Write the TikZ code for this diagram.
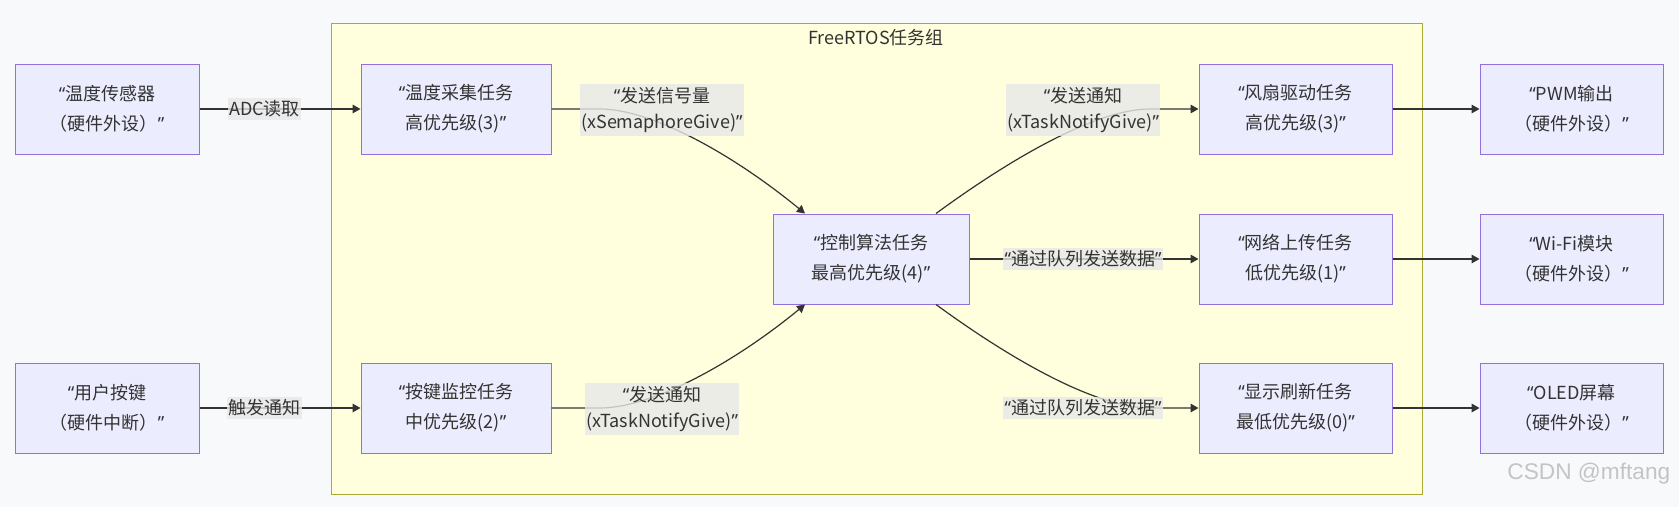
\documentclass[tikz,border=0pt]{standalone}
\usepackage{fontspec}
\setmainfont{Noto Sans CJK SC}
\newfontfamily\qfont{Noto Sans}
\newfontfamily\wmfont{Liberation Sans}
\newcommand\oq{{\qfont “}}
\newcommand\cq{{\qfont ”}}
\usetikzlibrary{arrows.meta,calc}
\definecolor{bgc}{HTML}{F8F9FB}
\definecolor{nodefill}{HTML}{ECECFF}
\definecolor{nodeborder}{HTML}{9370DB}
\definecolor{clusterfill}{HTML}{FFFFDE}
\definecolor{clusterborder}{HTML}{AAAA33}
\definecolor{linec}{HTML}{333333}
\definecolor{labelbg}{HTML}{E8E8E8}
\definecolor{wmark}{HTML}{C4C4C4}
\tikzset{
  box/.style={draw=nodeborder, fill=nodefill, line width=0.75pt, minimum height=67.5pt,
    inner sep=0pt, align=center, text=linec, font=\fontsize{13.5pt}{22.5pt}\selectfont},
  edgeline/.style={draw=linec, line width=0.9pt, -{Triangle[length=6pt,width=6.5pt]}},
  elabel/.style={fill=labelbg, fill opacity=0.8, text opacity=1, inner xsep=1pt, inner ysep=2pt,
    align=center, text=linec, font=\fontsize{13.5pt}{20pt}\selectfont},
}
\begin{document}
\begin{tikzpicture}[x=0.75pt,y=-0.75pt]
\useasboundingbox[fill=bgc] (0,0) rectangle (1679,507);
% cluster
\draw[draw=clusterborder, fill=clusterfill, line width=0.75pt] (331,23.5) rectangle (1422,494);
\node[text=linec, font=\fontsize{13.5pt}{16pt}\selectfont] (title) at (876,38) {FreeRTOS任务组};
% nodes
\node[box, minimum width=138pt] (A) at (107,109) {\oq 温度传感器\\（硬件外设）\cq};
\node[box, minimum width=138pt] (B) at (107,408) {\oq 用户按键\\（硬件中断）\cq};
\node[box, minimum width=142.5pt] (C) at (456,109) {\oq 温度采集任务\\高优先级(3)\cq};
\node[box, minimum width=142.5pt] (D) at (456,408) {\oq 按键监控任务\\中优先级(2)\cq};
\node[box, minimum width=147pt] (E) at (871,259) {\oq 控制算法任务\\最高优先级(4)\cq};
\node[box, minimum width=144.75pt] (F) at (1295.5,109) {\oq 风扇驱动任务\\高优先级(3)\cq};
\node[box, minimum width=144.75pt] (G) at (1295.5,259) {\oq 网络上传任务\\低优先级(1)\cq};
\node[box, minimum width=144.75pt] (H) at (1295.5,408) {\oq 显示刷新任务\\最低优先级(0)\cq};
\node[box, minimum width=137.25pt] (I) at (1571.5,109) {\oq PWM输出\\（硬件外设）\cq};
\node[box, minimum width=137.25pt] (J) at (1571.5,259) {\oq Wi-Fi模块\\（硬件外设）\cq};
\node[box, minimum width=137.25pt] (K) at (1571.5,408) {\oq OLED屏幕\\（硬件外设）\cq};
% waypoints
\coordinate (c1) at (600,109);
\coordinate (c2) at (650,109);
\coordinate (c3) at (730,152);
\coordinate (d1) at (600,408);
\coordinate (d2) at (650,408);
\coordinate (d3) at (730,366);
\coordinate (f1) at (1150,109);
\coordinate (f2) at (1100,109);
\coordinate (f3) at (1020,152);
\coordinate (h1) at (1150,408);
\coordinate (h2) at (1100,408);
\coordinate (h3) at (1020,366);
% edges
\draw[edgeline] (A) -- (C);
\draw[edgeline] (B) -- (D);
\draw[edgeline] (C.east) -- (c1) .. controls (c2) and (c3) .. ($(E.north)+(-66,0)$);
\draw[edgeline] (D.east) -- (d1) .. controls (d2) and (d3) .. ($(E.south)+(-66,0)$);
\draw[edgeline] ($(E.north)+(65,0)$) .. controls (f3) and (f2) .. (f1) -- (F.west);
\draw[edgeline] (E) -- (G);
\draw[edgeline] ($(E.south)+(65,0)$) .. controls (h3) and (h2) .. (h1) -- (H.west);
\draw[edgeline] (F) -- (I);
\draw[edgeline] (G) -- (J);
\draw[edgeline] (H) -- (K);
% edge labels
\node[elabel] (lA) at (264.5,109) {ADC读取};
\node[elabel] (lB) at (264.5,408) {触发通知};
\node[elabel] (lC) at (662,110) {\oq 发送信号量\\(xSemaphoreGive)\cq};
\node[elabel] (lD) at (662,409) {\oq 发送通知\\(xTaskNotifyGive)\cq};
\node[elabel] (lF) at (1083,110) {\oq 发送通知\\(xTaskNotifyGive)\cq};
\node[elabel] (lG) at (1083,259) {\oq 通过队列发送数据\cq};
\node[elabel] (lH) at (1083,408) {\oq 通过队列发送数据\cq};
% watermark
\node[text=wmark, font=\wmfont\fontsize{17pt}{19pt}\selectfont, anchor=east] (wm) at (1675,474) {CSDN @mftang};
\end{tikzpicture}
\end{document}
